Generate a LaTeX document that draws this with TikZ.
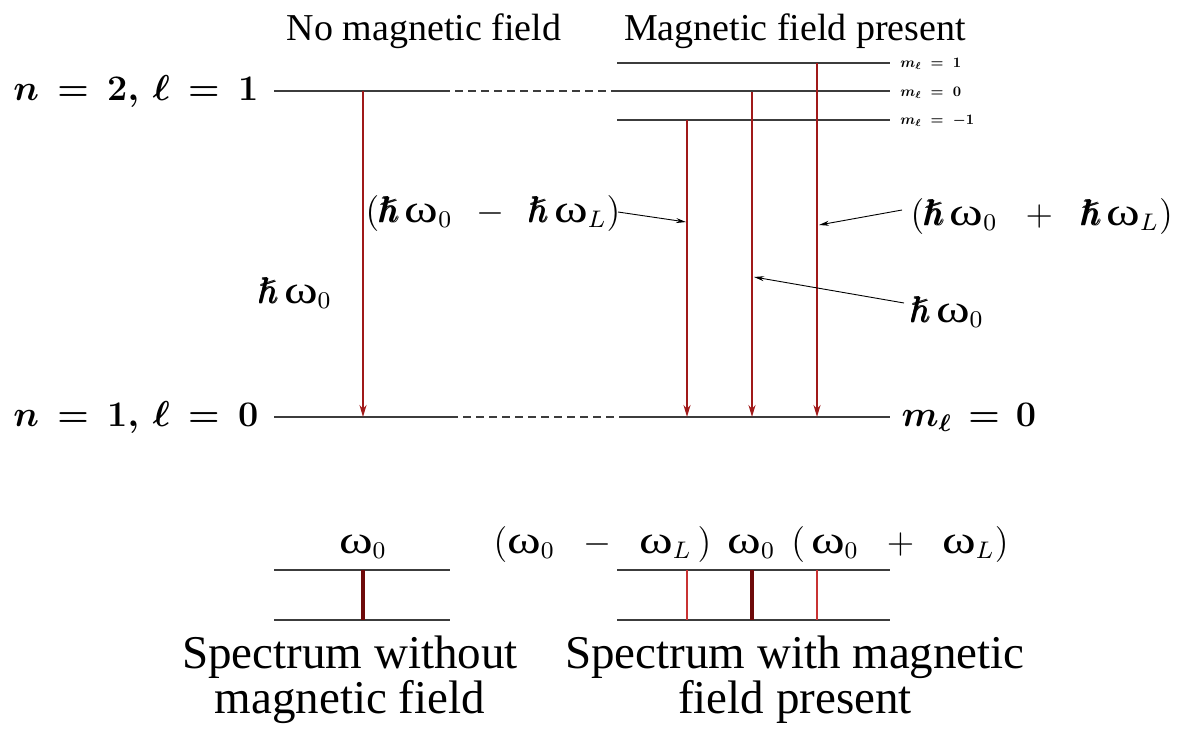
\documentclass[tikz,border=0pt]{standalone}
\usepackage{amsmath}
\usepackage{amssymb}
\usepackage{graphicx}
\usepackage{fontspec}
\setmainfont{Liberation Serif}
\newfontfamily\omfont{Liberation Serif}
\newcommand{\om}{\mbox{\omfont\scalebox{1.42}[1.1]{ω}}}
\newcommand{\hb}{\mathord{\pmb{\hslash}}}
\newcommand{\gp}{\mskip3mu}
\usetikzlibrary{arrows.meta}
\definecolor{trcol}{RGB}{160,25,25}
\definecolor{spthick}{RGB}{110,10,10}
\definecolor{spthin}{RGB}{200,50,50}
\definecolor{lvcol}{RGB}{60,60,60}
\begin{document}
\begin{tikzpicture}[x=1pt,y=-1pt,
  lvl/.style={draw=lvcol, line width=1.4pt},
  dlvl/.style={draw=lvcol, line width=1.4pt, dash pattern=on 8pt off 5pt},
  sublvl/.style={draw=lvcol, line width=1.2pt},
  trans/.style={draw=trcol, line width=1.8pt, -{Stealth[length=12pt,width=7pt]}},
  lead/.style={draw=black, line width=0.9pt, -{Stealth[length=10pt,width=5pt]}},
  big/.style={font=\fontsize{12}{14}\selectfont, inner sep=0pt, scale=3},
  bigb/.style={font=\fontsize{12}{14}\selectfont\boldmath, inner sep=0pt, scale=3},
  title/.style={font=\fontsize{38}{42}\selectfont, inner sep=0pt},
  small/.style={font=\fontsize{10}{12}\selectfont\boldmath, inner sep=0pt, anchor=base west, scale=1.45},
  caption/.style={font=\fontsize{47}{45}\selectfont, inner sep=0pt, align=center, anchor=base},
  spbase/.style={draw=lvcol, line width=1.8pt},
]
\useasboundingbox (0,0) rectangle (1177,728);

% titles
\node[title, anchor=base] (t1) at (424,40) {No magnetic field};
\node[title, anchor=base] (t2) at (795,40) {Magnetic field present};

% level coordinates
\coordinate (u0) at (274,91);
\coordinate (u1) at (442,91);
\coordinate (u2) at (617,91);
\coordinate (u3) at (890,91);
\coordinate (p1a) at (617,63);
\coordinate (p1b) at (890,63);
\coordinate (m1a) at (617,120);
\coordinate (m1b) at (890,120);
\coordinate (l0) at (274,417);
\coordinate (l1) at (450,417);
\coordinate (l2) at (620,417);
\coordinate (l3) at (890,417);

\draw[lvl] (u0) -- (u1);
\draw[dlvl] (u1) -- (u2);
\draw[sublvl] (u2) -- (u3);
\draw[sublvl] (p1a) -- (p1b);
\draw[sublvl] (m1a) -- (m1b);
\draw[lvl] (l0) -- (l1);
\draw[dlvl] (l1) -- (l2);
\draw[lvl] (l2) -- (l3);

% level labels
\node[bigb, anchor=base east] (n2) at (259,100) {$n\gp=\gp2,\gp\ell\gp=\gp1$};
\node[bigb, anchor=base east] (n1) at (259,426) {$n\gp=\gp1,\gp\ell\gp=\gp0$};
\node[bigb, anchor=base west] (ml0) at (901,426) {$m_\ell\mskip2mu=\mskip2mu0$};
\node[small] (mlp) at (900,67) {$m_\ell\;=\;1$};
\node[small] (mlz) at (900,96) {$m_\ell\;=\;0$};
\node[small] (mlm) at (900,124) {$m_\ell\;=\;-1$};

% transitions
\coordinate (a0s) at (363,91);  \coordinate (a0e) at (363,417);
\coordinate (a1s) at (687,120); \coordinate (a1e) at (687,417);
\coordinate (a2s) at (752,92);  \coordinate (a2e) at (752,417);
\coordinate (a3s) at (817,63);  \coordinate (a3e) at (817,417);
\draw[trans] (a0s) -- (a0e);
\draw[trans] (a1s) -- (a1e);
\draw[trans] (a2s) -- (a2e);
\draw[trans] (a3s) -- (a3e);

% transition labels
\node[big, anchor=base west] (h0) at (258,303) {$\hb\,\om_0$};
\node[big, anchor=base west] (hm) at (365,222) {$(\hb\,\om_0\;\,-\;\,\hb\,\om_L)$};
\node[big, anchor=base west] (hp) at (910,225) {$(\hb\,\om_0\;\;+\;\;\hb\,\om_L)$};
\node[big, anchor=base west] (hz) at (910,322) {$\hb\,\om_0$};

\coordinate (hmt) at (686,222);
\coordinate (hpt) at (819,225);
\coordinate (hzt) at (754,277);
\coordinate (hms) at (618,212);
\coordinate (hps) at (902,210);
\coordinate (hzs) at (904,303);
\draw[lead] (hms) -- (hmt);
\draw[lead] (hps) -- (hpt);
\draw[lead] (hzs) -- (hzt);

% spectra
\coordinate (s1a) at (274,570); \coordinate (s1b) at (450,570);
\coordinate (s1c) at (274,620); \coordinate (s1d) at (450,620);
\coordinate (s2a) at (617,570); \coordinate (s2b) at (890,570);
\coordinate (s2c) at (617,620); \coordinate (s2d) at (890,620);
\draw[spbase] (s1a) -- (s1b);
\draw[spbase] (s1c) -- (s1d);
\draw[spbase] (s2a) -- (s2b);
\draw[spbase] (s2c) -- (s2d);

\coordinate (q0a) at (363,570); \coordinate (q0b) at (363,620);
\coordinate (q1a) at (687,570); \coordinate (q1b) at (687,620);
\coordinate (q2a) at (752,570); \coordinate (q2b) at (752,620);
\coordinate (q3a) at (817,570); \coordinate (q3b) at (817,620);
\draw[draw=spthick, line width=3.5pt] (q0a) -- (q0b);
\draw[draw=spthin, line width=1.2pt] (q1a) -- (q1b);
\draw[draw=spthick, line width=3.5pt] (q2a) -- (q2b);
\draw[draw=spthin, line width=1.2pt] (q3a) -- (q3b);

\node[big, anchor=base] (w0) at (363,553) {$\om_0$};
\node[big, anchor=base west] (wl) at (493,553) {$(\om_0\;\;-\;\;\om_L\,)\;\,\om_0\;\,(\,\om_0\;\;+\;\;\om_L)$};

% captions
\node[caption] (c1) at (350,713) {Spectrum without\\magnetic field};
\node[caption] (c2) at (795,713) {Spectrum with magnetic\\field present};
\end{tikzpicture}
\end{document}
